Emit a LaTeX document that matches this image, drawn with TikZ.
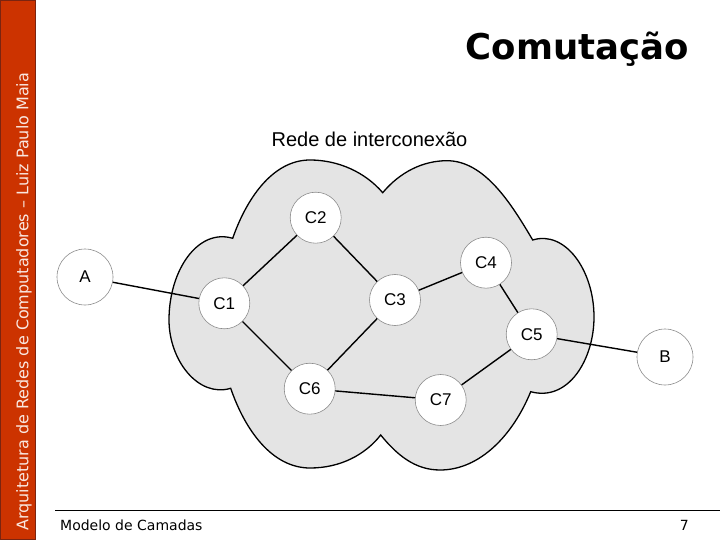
\documentclass[tikz,border=0pt]{standalone}
\usepackage{fontspec}
\setmainfont{Liberation Sans}
\newfontfamily\verdanafont{DejaVu Sans}
\usepackage{tikz}
\usetikzlibrary{positioning}
\definecolor{barcolor}{HTML}{CC3300}
\definecolor{barborder}{HTML}{7A2410}
\definecolor{cloudfill}{HTML}{E4E4E4}
\definecolor{nodeborder}{HTML}{8C8C8C}

\begin{document}
\begin{tikzpicture}[x=1pt,y=-1pt,
	main node/.style={circle,draw=nodeborder,fill=white,line width=0.6pt,minimum size=51pt,inner sep=0pt,font=\fontsize{17}{19}\selectfont},
	end node/.style={main node,minimum size=56pt},
	link/.style={line width=1.4pt},
	cloud line/.style={draw=black,fill=cloudfill,line width=1.3pt}]
	\useasboundingbox (0,0) rectangle (720,540);
	
	\node[draw=barborder,fill=barcolor,line width=0.8pt,minimum width=35pt,minimum height=539.5pt,inner sep=0pt] (bar) at (17.8,270) {};
	\node[rotate=90,anchor=west,text=white!88!barcolor,font=\verdanafont\fontsize{16}{18}\selectfont,inner sep=0pt] (sidetext) at (24,531) {Arquitetura de Redes de Computadores – Luiz Paulo Maia};
	\node[anchor=east,font=\verdanafont\bfseries\fontsize{35.5}{40}\selectfont,inner sep=0pt] (title) at (689,49) {Comutação};
	\node[font=\fontsize{20}{23}\selectfont,inner sep=0pt] (subtitle) at (369.5,139) {Rede de interconexão};
	
	\draw[cloud line] (232.7,238.3)
	.. controls (246,200) and (272,160) .. (310,160)
	.. controls (338,160) and (365,172) .. (382.7,192.7)
	.. controls (400,172) and (423,160.7) .. (447,160.7)
	.. controls (485,160.7) and (512,205) .. (532.7,240)
	.. controls (565,230) and (594,270) .. (594,317)
	.. controls (594,360) and (568,402) .. (530.7,391.7)
	.. controls (513,435) and (480,470) .. (440,470)
	.. controls (415,470) and (397,455) .. (380.7,435)
	.. controls (365,455) and (340,468) .. (310,468)
	.. controls (272,468) and (245,430) .. (230.7,388.3)
	.. controls (198,398) and (169,360) .. (169,320)
	.. controls (169,270) and (198,228) .. (232.7,238.3) -- cycle;
	
	\node[end node] (a) at (85,277) {A};
	\node[end node] (b) at (665,357) {B};
	\node[main node] (c1) at (224.3,303.3) {C1};
	\node[main node] (c2) at (315.7,217.7) {C2};
	\node[main node] (c3) at (395,300) {C3};
	\node[main node] (c4) at (486,262.7) {C4};
	\node[main node] (c5) at (531.7,334.3) {C5};
	\node[main node] (c6) at (309.7,388.7) {C6};
	\node[main node] (c7) at (440.7,400) {C7};
	
	\path[link]
	(a) edge (c1)
	(c1) edge (c2)
	(c1) edge (c6)
	(c2) edge (c3)
	(c3) edge (c4)
	(c3) edge (c6)
	(c4) edge (c5)
	(c5) edge (b)
	(c5) edge (c7)
	(c6) edge (c7);
	
	\coordinate (rule left) at (55,510.5);
	\coordinate (rule right) at (720,510.5);
	\draw[line width=0.8pt] (rule left) -- (rule right);
	\node[anchor=west,font=\verdanafont\fontsize{14}{16}\selectfont,inner sep=0pt] (footer) at (60,525) {Modelo de Camadas};
	\node[anchor=east,font=\verdanafont\fontsize{14}{16}\selectfont,inner sep=0pt] (page) at (689,525) {7};
\end{tikzpicture}
\end{document}
